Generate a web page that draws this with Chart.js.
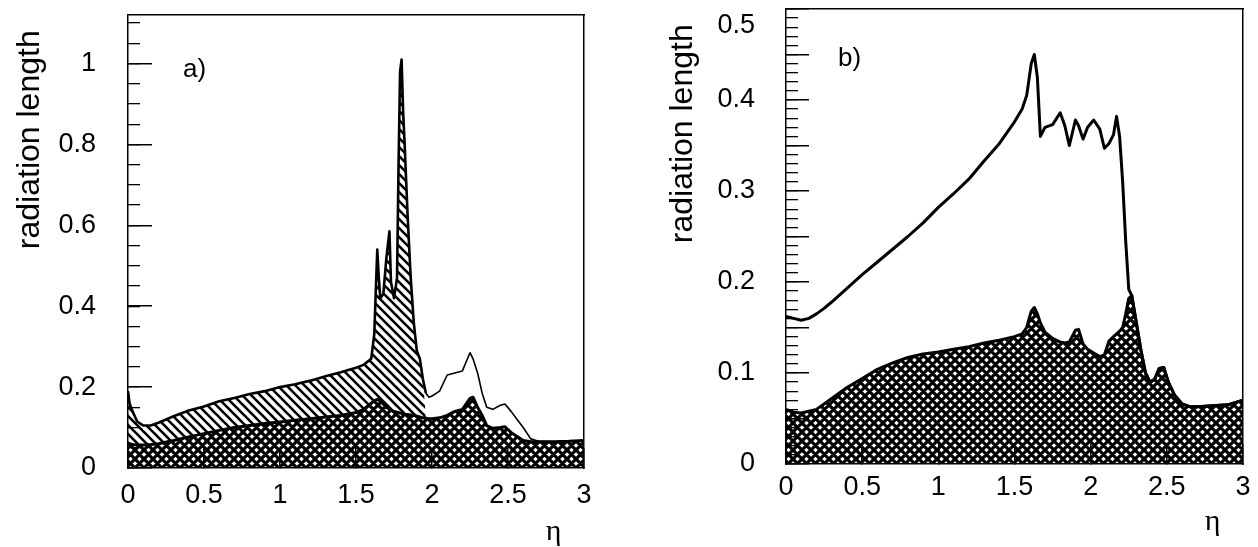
<!DOCTYPE html>
<html>
<head>
<meta charset="utf-8">
<script src="https://cdn.jsdelivr.net/npm/chart.js@4.4.0/dist/chart.umd.min.js"></script>
<style>
  html, body { margin: 0; padding: 0; background: #fff; }
  body { width: 1258px; height: 547px; position: relative; overflow: hidden; }
  canvas { position: absolute; top: 0; }
  #chartA { left: 0; }
  #chartB { left: 640px; }
  .tag { position: absolute; font: 26px "Liberation Sans", Arial, sans-serif; line-height: 26px; color: #000; }
</style>
</head>
<body>
<canvas id="chartA" width="620" height="547"></canvas>
<canvas id="chartB" width="618" height="547"></canvas>
<div class="tag" style="left:183px; top:55px">a)</div>
<div class="tag" style="left:838px; top:44px">b)</div>
<script>
// ---- panel a) : eta grid and curves ----
const etaA = [0, 0.01, 0.03, 0.06, 0.1, 0.15, 0.2, 0.3, 0.4, 0.5,
  0.6, 0.7, 0.8, 0.9, 1.0, 1.1, 1.2, 1.3, 1.4, 1.5,
  1.55, 1.6, 1.62, 1.64, 1.65, 1.66, 1.68, 1.7, 1.72, 1.73,
  1.75, 1.77, 1.78, 1.79, 1.8, 1.81, 1.82, 1.84, 1.86, 1.88,
  1.9, 1.92, 1.94, 1.96, 1.98, 2.0, 2.05, 2.1, 2.15, 2.2,
  2.25, 2.27, 2.3, 2.33, 2.36, 2.4, 2.45, 2.48, 2.52, 2.56,
  2.6, 2.65, 2.7, 2.8, 2.9, 3.0];
// outer line
const totalA = [0.19, 0.16, 0.14, 0.115, 0.105, 0.105, 0.112, 0.128, 0.142, 0.152,
  0.165, 0.173, 0.183, 0.19, 0.2, 0.207, 0.216, 0.227, 0.237, 0.248,
  0.255, 0.27, 0.33, 0.54, 0.47, 0.42, 0.43, 0.52, 0.585, 0.46,
  0.42, 0.47, 0.75, 0.98, 1.01, 0.88, 0.8, 0.62, 0.47, 0.36,
  0.29, 0.27, 0.22, 0.185, 0.175, 0.178, 0.19, 0.23, 0.235, 0.24,
  0.285, 0.27, 0.235, 0.185, 0.15, 0.145, 0.155, 0.158, 0.14, 0.12,
  0.1, 0.072, 0.066, 0.065, 0.066, 0.068];
// cross-hatched part
const innerA = [0.062, 0.06, 0.058, 0.057, 0.057, 0.058, 0.06, 0.068, 0.077, 0.085,
  0.093, 0.1, 0.105, 0.11, 0.114, 0.118, 0.122, 0.126, 0.13, 0.137,
  0.145, 0.16, 0.166, 0.17, 0.168, 0.165, 0.158, 0.15, 0.145, 0.142,
  0.14, 0.138, 0.137, 0.136, 0.135, 0.134, 0.133, 0.132, 0.131, 0.13,
  0.128, 0.126, 0.124, 0.123, 0.122, 0.122, 0.124, 0.13, 0.14, 0.145,
  0.172, 0.175, 0.15, 0.13, 0.105, 0.098, 0.1, 0.102, 0.088, 0.078,
  0.068, 0.065, 0.065, 0.065, 0.066, 0.068];
const hatchEndA = 1.95; // diagonal hatching stops here

// ---- panel b) ----
const etaB = [0, 0.05, 0.1, 0.15, 0.2, 0.25, 0.3, 0.4, 0.5, 0.6,
  0.7, 0.8, 0.9, 1.0, 1.1, 1.2, 1.3, 1.4, 1.5, 1.55,
  1.58, 1.61, 1.63, 1.65, 1.67, 1.7, 1.75, 1.8, 1.83, 1.86,
  1.9, 1.92, 1.95, 1.98, 2.02, 2.06, 2.09, 2.12, 2.15, 2.17,
  2.19, 2.21, 2.23, 2.25, 2.27, 2.3, 2.33, 2.36, 2.39, 2.42,
  2.45, 2.48, 2.51, 2.55, 2.6, 2.65, 2.7, 2.8, 2.9, 3.0];
const totalB = [0.162, 0.16, 0.158, 0.16, 0.165, 0.171, 0.178, 0.193, 0.208, 0.222,
  0.236, 0.25, 0.265, 0.282, 0.297, 0.313, 0.333, 0.352, 0.376, 0.39,
  0.405, 0.44, 0.45, 0.425, 0.36, 0.37, 0.373, 0.386, 0.372, 0.35,
  0.378, 0.372, 0.357, 0.37, 0.378, 0.368, 0.347, 0.352, 0.362, 0.382,
  0.36, 0.31, 0.245, 0.192, 0.185, 0.155, 0.125, 0.1, 0.09, 0.093,
  0.105, 0.106, 0.09, 0.076, 0.066, 0.063, 0.063, 0.064, 0.065, 0.07];
const innerB = [0.06, 0.057, 0.056, 0.058, 0.06, 0.066, 0.072, 0.084, 0.094, 0.104,
  0.111, 0.117, 0.121, 0.123, 0.126, 0.129, 0.133, 0.136, 0.14, 0.143,
  0.15, 0.168, 0.172, 0.165, 0.155, 0.145, 0.138, 0.134, 0.133, 0.134,
  0.147, 0.148, 0.132, 0.126, 0.122, 0.118, 0.12, 0.135, 0.14, 0.143,
  0.146, 0.15, 0.165, 0.182, 0.185, 0.155, 0.125, 0.1, 0.09, 0.093,
  0.105, 0.106, 0.09, 0.076, 0.066, 0.063, 0.063, 0.064, 0.065, 0.07];

Chart.defaults.font.family = "'Liberation Sans', Arial, sans-serif";
Chart.defaults.color = "#000";

// hatch patterns
function makePattern(cross) {
  const c = document.createElement("canvas");
  c.width = c.height = 9;
  const g = c.getContext("2d");
  g.strokeStyle = "#000";
  g.lineWidth = cross ? 3.2 : 2.6;
  g.beginPath();
  [-9, 0, 9].forEach(k => {
    g.moveTo(k - 1, -1); g.lineTo(k + 10, 10);
    if (cross) { g.moveTo(k + 10, -1); g.lineTo(k - 1, 10); }
  });
  g.stroke();
  return g.createPattern(c, "repeat");
}
const diagFill = makePattern(false);
const crossFill = makePattern(true);

const pts = (xs, ys) => xs.map((x, i) => ({ x: x, y: ys[i] }));
const fmt = v => String(+v.toFixed(2));

// force axis box sizes so the plot frame lands where it should
function fixSize(w, h) {
  return function (scale) {
    if (w !== undefined) scale.width = w;
    if (h !== undefined) scale.height = h;
    scale.paddingTop = scale.paddingBottom = scale.paddingLeft = scale.paddingRight = 0;
  };
}

function makePanel(id, p) {
  const ctx = document.getElementById(id).getContext("2d");
  const frame = { display: true, color: "#000", width: 1.5 };
  new Chart(ctx, {
    type: "line",
    data: { datasets: p.datasets },
    options: {
      responsive: false,
      animation: false,
      layout: { padding: p.pad },
      plugins: { legend: { display: false }, tooltip: { enabled: false } },
      elements: { point: { radius: 0 }, line: { tension: 0, borderJoinStyle: "round" } },
      scales: {
        x: {
          type: "linear", axis: "x", position: "bottom", min: 0, max: 3,
          ticks: { stepSize: 0.5, font: { size: 27 }, padding: p.xPad, autoSkip: false, maxRotation: 0, callback: fmt },
          grid: { display: true, drawOnChartArea: false, drawTicks: true, tickLength: -20, color: "#000", lineWidth: 1.5 },
          border: frame,
          title: { display: true, text: "η\u00a0\u00a0\u00a0", align: "end",
            font: { family: "'Liberation Serif', 'DejaVu Serif', serif", size: 30, lineHeight: 1 },
            padding: { top: 0, bottom: p.etaPad } },
          afterFit: fixSize(undefined, p.xHeight)
        },
        xTop: {
          type: "linear", axis: "x", position: "top", min: 0, max: 3,
          ticks: { display: false }, grid: { display: false }, border: frame,
          afterFit: fixSize(undefined, 0)
        },
        y: {
          type: "linear", axis: "y", position: "left", min: 0, max: p.ymax, weight: 1,
          ticks: { stepSize: p.major, font: { size: 27 }, padding: p.yPad, autoSkip: false, includeBounds: false, callback: p.yLabel },
          grid: { display: true, drawOnChartArea: false, drawTicks: true, tickLength: -p.majorLen, color: "#000", lineWidth: 1.5 },
          border: frame,
          title: { display: true, text: "radiation length\u00a0\u2009", align: "end",
            font: { size: 32 }, padding: { top: p.titlePad, bottom: 0 } },
          afterFit: fixSize(p.yWidth)
        },
        yMinor: {
          type: "linear", axis: "y", position: "left", min: 0, max: p.ymax, weight: 0,
          ticks: { display: false, stepSize: p.minor, autoSkip: false, includeBounds: false },
          grid: { display: true, drawOnChartArea: false, drawTicks: true, tickLength: -12, color: "#000", lineWidth: 1.3 },
          border: { display: false },
          afterFit: fixSize(0)
        },
        yRight: {
          type: "linear", axis: "y", position: "right", min: 0, max: p.ymax,
          ticks: { display: false }, grid: { display: false }, border: frame,
          afterFit: fixSize(0)
        }
      }
    }
  });
}

// panel a): outer line, diagonal-hatched band, cross-hatched base
const hatchA = etaA.map((x, i) => (x < hatchEndA ? totalA[i] : innerA[i]));
makePanel("chartA", {
  pad: { left: 0, top: 15, right: 36, bottom: 0 },
  ymax: 1.12, major: 0.2, minor: 0.05, majorLen: 24,
  yWidth: 128, xHeight: 79, xPad: 31, yPad: 56, etaPad: 0,
  titlePad: 11,
  yLabel: fmt,
  datasets: [
    { data: pts(etaA, totalA), xAxisID: "x", yAxisID: "y", borderColor: "#000", borderWidth: 2, fill: false,
      segment: { borderWidth: c => (c.p0.parsed.x < hatchEndA ? 2.6 : 1.6) } },
    { data: pts(etaA, hatchA), xAxisID: "x", yAxisID: "y", borderWidth: 0, borderColor: "rgba(0,0,0,0)", backgroundColor: diagFill, fill: "+1" },
    { data: pts(etaA, innerA), xAxisID: "x", yAxisID: "y", borderColor: "#000", borderWidth: 3, backgroundColor: crossFill, fill: "origin" }
  ]
});

// panel b): outer line, cross-hatched base
makePanel("chartB", {
  pad: { left: 0, top: 9, right: 15, bottom: 0 },
  ymax: 0.5, major: 0.05, minor: 0.01, majorLen: 23,
  yWidth: 146, xHeight: 83, xPad: 27, yPad: 54, etaPad: 10,
  titlePad: 24,
  yLabel: v => {
    if (Math.abs(v * 10 - Math.round(v * 10)) > 1e-6) return "";
    const s = String(Math.round(v * 10) / 10);
    return Math.abs(v - 0.5) < 1e-6 ? ["", s] : s; // top label sits a bit lower
  },
  datasets: [
    { data: pts(etaB, totalB), xAxisID: "x", yAxisID: "y", borderColor: "#000", borderWidth: 3, fill: false },
    { data: pts(etaB, innerB), xAxisID: "x", yAxisID: "y", borderColor: "#000", borderWidth: 3, backgroundColor: crossFill, fill: "origin" }
  ]
});
</script>
</body>
</html>
